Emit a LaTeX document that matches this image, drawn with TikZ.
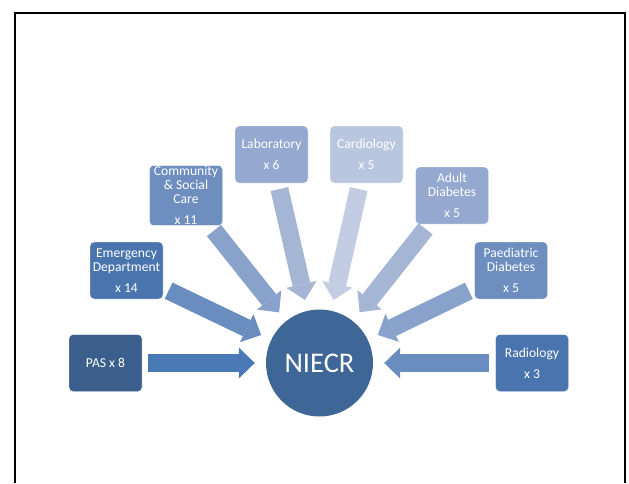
\documentclass[tikz,border=0pt]{standalone}
\usepackage{fontspec}
\setmainfont{Carlito}
\usepackage{xcolor}
\usetikzlibrary{arrows.meta}

\definecolor{boxA}{HTML}{3B5E8C}
\definecolor{boxB}{HTML}{4A74AD}
\definecolor{boxC}{HTML}{6E8EC0}
\definecolor{boxD}{HTML}{94A8D0}
\definecolor{boxE}{HTML}{B9C6DF}
\definecolor{hub}{HTML}{3E6696}
\definecolor{feedA}{HTML}{4A7AB6}
\definecolor{feedB}{HTML}{6A8DC0}
\definecolor{feedC}{HTML}{89A2CB}
\definecolor{feedD}{HTML}{A5B6D5}
\definecolor{feedE}{HTML}{C2CDE3}

\tikzset{
  unit/.style={fill=#1, draw=white, line width=0.4pt, rounded corners=4pt,
    minimum width=73pt, minimum height=57pt, inner sep=1pt, align=center,
    text=white, font=\fontsize{13.6}{14}\selectfont},
  feed/.style={draw=#1, line width=18pt, shorten <=6pt, shorten >=11pt,
    -{Triangle[width=31pt,length=16pt,line width=0pt]}},
}

\begin{document}
\begin{tikzpicture}[x=1pt, y=-1pt]
\useasboundingbox (0,0) rectangle (629,483);
% page frame
\draw[line width=2pt] (15,483) -- (15,13) -- (625,13) -- (625,483);

% hub
\node[circle, fill=hub, minimum size=107pt, inner sep=0pt, text=white,
  font=\fontsize{28.5}{30}\selectfont] (niecr) at (319.5,363) {NIECR};

% sources
\node[unit=boxA] (pas) at (105.5,363) {PAS x 8};
\node[unit=boxB] (emerg) at (126.5,270.5) {Emergency\\Department\\[7pt]x 14};
\node[unit=boxC] (community) at (186,195.5) {Community\\\& Social\\Care\\[7pt]x 11};
\node[unit=boxD] (lab) at (271.5,154.5) {Laboratory\\[7pt]x 6};
\node[unit=boxE] (cardio) at (366.5,154.5) {Cardiology\\[7pt]x 5};
\node[unit=boxD] (adult) at (452,195.5) {Adult\\Diabetes\\[7pt]x 5};
\node[unit=boxC] (paed) at (511,270.5) {Paediatric\\Diabetes\\[7pt]x 5};
\node[unit=boxB] (radio) at (532,363) {Radiology\\[7pt]x 3};

% feeds into the hub
\draw[feed=feedA] (pas) -- (niecr);
\draw[feed=feedB] (emerg) -- (niecr);
\draw[feed=feedC] (community) -- (niecr);
\draw[feed=feedD] (lab) -- (niecr);
\draw[feed=feedE] (cardio) -- (niecr);
\draw[feed=feedD] (adult) -- (niecr);
\draw[feed=feedC] (paed) -- (niecr);
\draw[feed=feedB] (radio) -- (niecr);
\end{tikzpicture}
\end{document}
